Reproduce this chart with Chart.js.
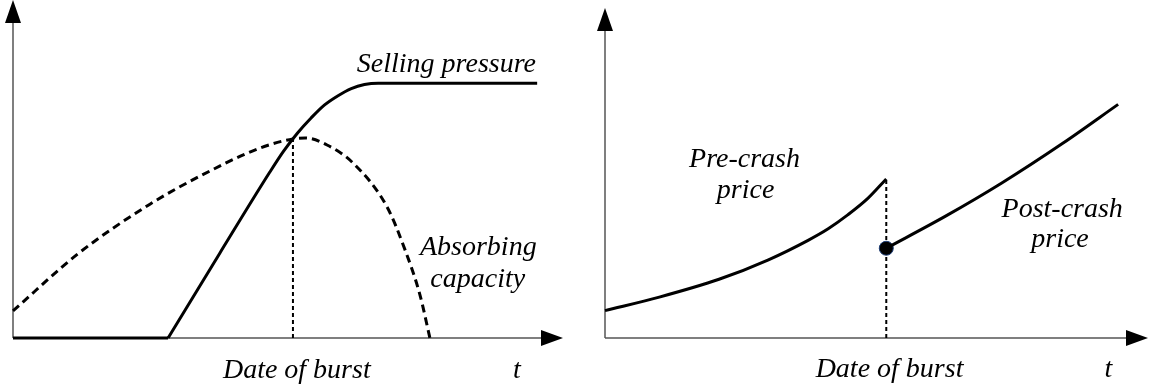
<!DOCTYPE html>
<html>
<head>
<meta charset="utf-8">
<script src="https://cdn.jsdelivr.net/npm/chart.js@4.4.1/dist/chart.umd.min.js"></script>
<style>
  html, body { margin: 0; padding: 0; background: #fff; }
  #wrap { position: relative; width: 1156px; height: 387px; overflow: hidden; }
  .panel { position: absolute; top: 0; height: 387px; }
  #p1 { left: 0; width: 580px; }
  #p2 { left: 580px; width: 576px; }
</style>
</head>
<body>
<div id="wrap">
  <div class="panel" id="p1"><canvas id="c1" width="580" height="387"></canvas></div>
  <div class="panel" id="p2"><canvas id="c2" width="576" height="387"></canvas></div>
</div>
<script>
// ---------- Left panel data ----------
const sellFlatX = [0, 2.82];
const sellFlatY = [0, 0];
const sellX = [2.82, 3.76, 4.67, 4.92, 5.17, 5.42, 5.66, 5.91, 6.15, 6.39, 6.64, 9.53];
const sellY = [0, 2.51, 4.91, 5.53, 6.06, 6.51, 6.89, 7.17, 7.38, 7.50, 7.54, 7.54];
const absorbX = [0, 1.18, 2.49, 3.40, 4.49, 5.09, 5.31, 5.71, 6.18, 6.80, 7.13, 7.40, 7.58];
const absorbY = [0.80, 2.49, 3.96, 4.79, 5.62, 5.89, 5.92, 5.71, 5.18, 3.88, 2.60, 1.27, 0];
const burstLeftX = 5.09;
const burstLeftY = 5.89;

// ---------- Right panel data ----------
const preX = [0, 1.00, 2.10, 3.01, 3.74, 4.11, 4.47, 4.84, 5.18];
const preY = [0.83, 1.24, 1.78, 2.37, 2.96, 3.31, 3.73, 4.23, 4.82];
const postX = [5.18, 6.28, 7.30, 8.43, 9.45];
const postY = [2.72, 3.70, 4.69, 5.90, 7.08];
const burstRightX = 5.18;
const burstRightTop = 4.82;

// ---------- Text labels ----------
const leftLabels = [
  { text: 'Selling pressure', x: 7.88, y: 7.87 },
  { text: 'Absorbing', x: 8.46, y: 2.46 },
  { text: 'capacity', x: 8.45, y: 1.51 },
  { text: 'Date of burst', x: 5.16, y: -1.18 },
  { text: 't', x: 9.16, y: -1.18 }
];
const rightLabels = [
  { text: 'Pre-crash', x: 2.57, y: 5.18 },
  { text: 'price', x: 2.59, y: 4.23 },
  { text: 'Post-crash', x: 8.42, y: 3.67 },
  { text: 'price', x: 8.38, y: 2.75 },
  { text: 'Date of burst', x: 5.24, y: -1.18 },
  { text: 't', x: 9.27, y: -1.18 }
];

const toPts = (xs, ys) => xs.map((x, i) => ({ x, y: ys[i] }));

const axesPlugin = {
  id: 'arrowAxes',
  beforeDatasetsDraw(chart) {
    const { ctx, chartArea: a } = chart;
    ctx.save();
    ctx.strokeStyle = '#555';
    ctx.lineWidth = 1.5;
    ctx.beginPath();
    ctx.moveTo(a.left, a.bottom);
    ctx.lineTo(a.left, a.top + 20);
    ctx.moveTo(a.left, a.bottom);
    ctx.lineTo(a.right - 20, a.bottom);
    ctx.stroke();
    ctx.fillStyle = '#000';
    ctx.beginPath();
    ctx.moveTo(a.left, a.top);
    ctx.lineTo(a.left - 8, a.top + 23);
    ctx.lineTo(a.left + 8, a.top + 23);
    ctx.closePath();
    ctx.fill();
    ctx.beginPath();
    ctx.moveTo(a.right, a.bottom);
    ctx.lineTo(a.right - 22, a.bottom - 8);
    ctx.lineTo(a.right - 22, a.bottom + 8);
    ctx.closePath();
    ctx.fill();
    ctx.restore();
  }
};

const labelPlugin = {
  id: 'labels',
  afterDraw(chart) {
    const labels = chart.options.plugins.labels.items;
    const { ctx } = chart;
    const xs = chart.scales.x, ys = chart.scales.y;
    ctx.save();
    ctx.fillStyle = '#000';
    ctx.font = 'italic 28px "Liberation Serif"';
    ctx.textAlign = 'center';
    ctx.textBaseline = 'alphabetic';
    labels.forEach(l => {
      ctx.fillText(l.text, xs.getPixelForValue(l.x), ys.getPixelForValue(l.y));
    });
    ctx.restore();
  }
};

function baseOptions(padding, labels) {
  return {
    responsive: false,
    animation: false,
    devicePixelRatio: 1,
    layout: { padding },
    events: [],
    scales: {
      x: { type: 'linear', min: 0, max: 10, display: false },
      y: { type: 'linear', min: 0, max: 10, display: false }
    },
    plugins: {
      legend: { display: false },
      tooltip: { enabled: false },
      labels: { items: labels }
    },
    elements: { point: { radius: 0 } }
  };
}

const solid = { borderColor: '#000', borderWidth: 3, pointRadius: 0, fill: false, clip: false };

new Chart(document.getElementById('c1'), {
  type: 'line',
  data: {
    datasets: [
      { ...solid, label: 'Selling pressure (zero)', data: toPts(sellFlatX, sellFlatY), tension: 0 },
      { ...solid, label: 'Selling pressure', data: toPts(sellX, sellY), cubicInterpolationMode: 'monotone' },
      { ...solid, label: 'Absorbing capacity', data: toPts(absorbX, absorbY), borderDash: [8, 5], cubicInterpolationMode: 'monotone' },
      { ...solid, label: 'Date of burst', data: toPts([burstLeftX, burstLeftX], [0, burstLeftY]), borderWidth: 2, borderDash: [4, 3], tension: 0 }
    ]
  },
  options: baseOptions({ left: 13, right: 17, top: 0, bottom: 49 }, leftLabels),
  plugins: [axesPlugin, labelPlugin]
});

new Chart(document.getElementById('c2'), {
  type: 'line',
  data: {
    datasets: [
      { ...solid, label: 'Pre-crash price', data: toPts(preX, preY), cubicInterpolationMode: 'monotone' },
      { ...solid, label: 'Post-crash price', data: toPts(postX, postY), cubicInterpolationMode: 'monotone' },
      { ...solid, label: 'Date of burst', data: toPts([burstRightX, burstRightX], [0, burstRightTop]), borderWidth: 2, borderDash: [4, 3], tension: 0 },
      { label: 'Crash point', data: [{ x: postX[0], y: postY[0] }], showLine: false, pointRadius: 7, pointBackgroundColor: '#000', pointBorderColor: '#1f3f78', pointBorderWidth: 1, clip: false }
    ]
  },
  options: baseOptions({ left: 25, right: 3, top: 0, bottom: 49 }, rightLabels),
  plugins: [axesPlugin, labelPlugin]
});
</script>
</body>
</html>
